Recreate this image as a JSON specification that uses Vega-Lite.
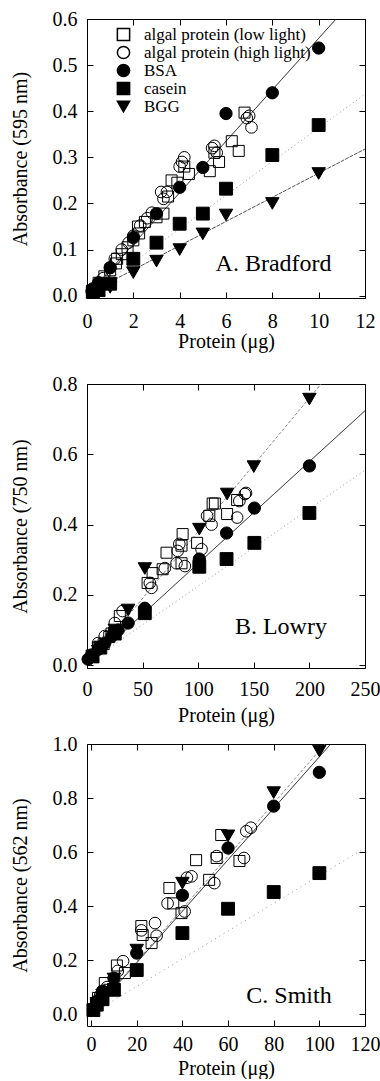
{
  "$schema": "https://vega.github.io/schema/vega-lite/v6.json",
  "padding": {"left": 9, "top": 8, "right": 0, "bottom": 0},
  "background": "white",
  "config": {
    "font": "Liberation Serif, Times New Roman, serif",
    "view": {"stroke": "black", "strokeWidth": 1},
    "axis": {
      "grid": false, "domain": false, "tickColor": "black", "tickSize": -6, "tickWidth": 1,
      "labelFontSize": 20, "labelColor": "black",
      "titleFontSize": 20, "titleFontWeight": "normal", "titleColor": "black",
      "labelFlush": false, "labelOverlap": false, "labelPadding": 16, "titlePadding": 14
    },
    "legend": {"labelFont": "Liberation Serif, Times New Roman, serif"}
  },
  "datasets": {
    "ptsA": [
      {"s":"L","x":0.25,"y":0.012},{"s":"L","x":0.5,"y":0.028},{"s":"L","x":0.75,"y":0.042},{"s":"L","x":1.0,"y":0.055},{"s":"L","x":1.25,"y":0.07},{"s":"L","x":1.3,"y":0.08},{"s":"L","x":1.5,"y":0.09},{"s":"L","x":1.75,"y":0.105},{"s":"L","x":2.0,"y":0.12},{"s":"L","x":2.2,"y":0.15},{"s":"L","x":2.25,"y":0.135},{"s":"L","x":2.5,"y":0.16},{"s":"L","x":3.0,"y":0.17},{"s":"L","x":3.3,"y":0.178},{"s":"L","x":3.5,"y":0.215},{"s":"L","x":3.65,"y":0.25},{"s":"L","x":3.9,"y":0.245},{"s":"L","x":4.2,"y":0.28},{"s":"L","x":4.4,"y":0.264},{"s":"L","x":5.3,"y":0.27},{"s":"L","x":5.5,"y":0.31},{"s":"L","x":5.7,"y":0.29},{"s":"L","x":6.25,"y":0.335},{"s":"L","x":6.55,"y":0.314},{"s":"L","x":6.8,"y":0.397},
      {"s":"H","x":0.2,"y":0.01},{"s":"H","x":0.45,"y":0.022},{"s":"H","x":0.7,"y":0.038},{"s":"H","x":1.0,"y":0.06},{"s":"H","x":1.2,"y":0.08},{"s":"H","x":1.5,"y":0.1},{"s":"H","x":1.8,"y":0.115},{"s":"H","x":2.0,"y":0.13},{"s":"H","x":2.3,"y":0.152},{"s":"H","x":2.6,"y":0.168},{"s":"H","x":2.8,"y":0.18},{"s":"H","x":3.2,"y":0.225},{"s":"H","x":3.3,"y":0.21},{"s":"H","x":3.45,"y":0.225},{"s":"H","x":4.0,"y":0.28},{"s":"H","x":4.1,"y":0.29},{"s":"H","x":4.2,"y":0.3},{"s":"H","x":5.4,"y":0.32},{"s":"H","x":5.5,"y":0.325},{"s":"H","x":5.6,"y":0.31},{"s":"H","x":6.9,"y":0.385},{"s":"H","x":7.0,"y":0.39},{"s":"H","x":7.1,"y":0.365},
      {"s":"BSA","x":0.25,"y":0.015},{"s":"BSA","x":0.5,"y":0.028},{"s":"BSA","x":1,"y":0.061},{"s":"BSA","x":2,"y":0.126},{"s":"BSA","x":3,"y":0.178},{"s":"BSA","x":4,"y":0.235},{"s":"BSA","x":5,"y":0.278},{"s":"BSA","x":6,"y":0.395},{"s":"BSA","x":8,"y":0.44},{"s":"BSA","x":10,"y":0.537},
      {"s":"casein","x":0.25,"y":0.008},{"s":"casein","x":0.5,"y":0.012},{"s":"casein","x":1,"y":0.026},{"s":"casein","x":2,"y":0.08},{"s":"casein","x":3,"y":0.115},{"s":"casein","x":4,"y":0.156},{"s":"casein","x":5,"y":0.178},{"s":"casein","x":6,"y":0.232},{"s":"casein","x":8,"y":0.305},{"s":"casein","x":10,"y":0.37},
      {"s":"BGG","x":0.5,"y":0.01},{"s":"BGG","x":1,"y":0.018},{"s":"BGG","x":2,"y":0.05},{"s":"BGG","x":3,"y":0.075},{"s":"BGG","x":4,"y":0.1},{"s":"BGG","x":5,"y":0.134},{"s":"BGG","x":6,"y":0.175},{"s":"BGG","x":8,"y":0.2},{"s":"BGG","x":10,"y":0.265}
    ],
    "linesA": [
      {"s":"BSA","x":0,"y":0.0},{"s":"BSA","x":10.75,"y":0.6},
      {"s":"casein","x":0.3,"y":0.01},{"s":"casein","x":12,"y":0.437},
      {"s":"BGG","x":1,"y":0.03},{"s":"BGG","x":12,"y":0.318}
    ],
    "ptsB": [
      {"s":"L","x":5,"y":0.025},{"s":"L","x":10,"y":0.05},{"s":"L","x":15,"y":0.06},{"s":"L","x":20,"y":0.08},{"s":"L","x":22,"y":0.09},{"s":"L","x":29.5,"y":0.14},{"s":"L","x":54.5,"y":0.234},{"s":"L","x":59,"y":0.262},{"s":"L","x":68,"y":0.273},{"s":"L","x":71.5,"y":0.32},{"s":"L","x":85,"y":0.29},{"s":"L","x":85,"y":0.34},{"s":"L","x":86,"y":0.373},{"s":"L","x":99,"y":0.348},{"s":"L","x":110,"y":0.425},{"s":"L","x":113,"y":0.46},{"s":"L","x":115,"y":0.46},{"s":"L","x":126,"y":0.43},{"s":"L","x":135,"y":0.47},
      {"s":"H","x":4,"y":0.03},{"s":"H","x":10,"y":0.063},{"s":"H","x":16,"y":0.083},{"s":"H","x":25,"y":0.12},{"s":"H","x":32,"y":0.154},{"s":"H","x":56.5,"y":0.234},{"s":"H","x":58,"y":0.22},{"s":"H","x":70,"y":0.276},{"s":"H","x":80.5,"y":0.29},{"s":"H","x":81.5,"y":0.325},{"s":"H","x":83,"y":0.345},{"s":"H","x":88,"y":0.282},{"s":"H","x":103,"y":0.33},{"s":"H","x":108,"y":0.425},{"s":"H","x":112,"y":0.4},{"s":"H","x":135,"y":0.42},{"s":"H","x":137,"y":0.467},{"s":"H","x":142,"y":0.487},{"s":"H","x":143,"y":0.49},
      {"s":"BSA","x":1,"y":0.017},{"s":"BSA","x":4.5,"y":0.027},{"s":"BSA","x":10,"y":0.045},{"s":"BSA","x":16,"y":0.063},{"s":"BSA","x":22.5,"y":0.083},{"s":"BSA","x":28,"y":0.1},{"s":"BSA","x":37,"y":0.12},{"s":"BSA","x":52,"y":0.162},{"s":"BSA","x":101,"y":0.302},{"s":"BSA","x":125.5,"y":0.376},{"s":"BSA","x":150.5,"y":0.447},{"s":"BSA","x":200,"y":0.567},
      {"s":"casein","x":5,"y":0.025},{"s":"casein","x":12,"y":0.05},{"s":"casein","x":25,"y":0.09},{"s":"casein","x":52,"y":0.148},{"s":"casein","x":101,"y":0.28},{"s":"casein","x":125.5,"y":0.302},{"s":"casein","x":150.5,"y":0.348},{"s":"casein","x":200,"y":0.433},
      {"s":"BGG","x":10,"y":0.04},{"s":"BGG","x":25,"y":0.1},{"s":"BGG","x":37,"y":0.157},{"s":"BGG","x":52,"y":0.275},{"s":"BGG","x":101,"y":0.387},{"s":"BGG","x":126,"y":0.487},{"s":"BGG","x":150,"y":0.565},{"s":"BGG","x":200,"y":0.757}
    ],
    "linesB": [
      {"s":"BSA","x":0,"y":0.0},{"s":"BSA","x":250,"y":0.724},
      {"s":"casein","x":0,"y":0.005},{"s":"casein","x":250,"y":0.555},
      {"s":"BGG","x":0,"y":0.0},{"s":"BGG","x":210.5,"y":0.8}
    ],
    "ptsC": [
      {"s":"L","x":3,"y":0.06},{"s":"L","x":6,"y":0.115},{"s":"L","x":8,"y":0.09},{"s":"L","x":11.3,"y":0.18},{"s":"L","x":14.8,"y":0.152},{"s":"L","x":22,"y":0.326},{"s":"L","x":22.6,"y":0.293},{"s":"L","x":26.5,"y":0.263},{"s":"L","x":34.3,"y":0.467},{"s":"L","x":36,"y":0.41},{"s":"L","x":39.6,"y":0.374},{"s":"L","x":46,"y":0.57},{"s":"L","x":51.7,"y":0.497},{"s":"L","x":55,"y":0.578},{"s":"L","x":57,"y":0.663},{"s":"L","x":65,"y":0.567},
      {"s":"H","x":4,"y":0.07},{"s":"H","x":7,"y":0.1},{"s":"H","x":11.7,"y":0.16},{"s":"H","x":14,"y":0.196},{"s":"H","x":22,"y":0.31},{"s":"H","x":28,"y":0.337},{"s":"H","x":28.7,"y":0.29},{"s":"H","x":33.5,"y":0.41},{"s":"H","x":41,"y":0.38},{"s":"H","x":42,"y":0.505},{"s":"H","x":44,"y":0.51},{"s":"H","x":54,"y":0.485},{"s":"H","x":55,"y":0.585},{"s":"H","x":67,"y":0.578},{"s":"H","x":68,"y":0.677},{"s":"H","x":70,"y":0.69},
      {"s":"BSA","x":1,"y":0.02},{"s":"BSA","x":2.5,"y":0.048},{"s":"BSA","x":5,"y":0.085},{"s":"BSA","x":10,"y":0.133},{"s":"BSA","x":20,"y":0.226},{"s":"BSA","x":40,"y":0.44},{"s":"BSA","x":60,"y":0.615},{"s":"BSA","x":80,"y":0.77},{"s":"BSA","x":100,"y":0.895},
      {"s":"casein","x":1,"y":0.015},{"s":"casein","x":2.5,"y":0.035},{"s":"casein","x":5,"y":0.055},{"s":"casein","x":10,"y":0.09},{"s":"casein","x":20,"y":0.163},{"s":"casein","x":40,"y":0.3},{"s":"casein","x":60,"y":0.39},{"s":"casein","x":80,"y":0.452},{"s":"casein","x":100,"y":0.522},
      {"s":"BGG","x":2.5,"y":0.04},{"s":"BGG","x":5,"y":0.07},{"s":"BGG","x":10,"y":0.13},{"s":"BGG","x":20,"y":0.237},{"s":"BGG","x":40,"y":0.485},{"s":"BGG","x":60,"y":0.66},{"s":"BGG","x":80,"y":0.82},{"s":"BGG","x":100,"y":0.974}
    ],
    "linesC": [
      {"s":"BSA","x":0,"y":0.0},{"s":"BSA","x":105,"y":1.0},
      {"s":"casein","x":0,"y":0.0},{"s":"casein","x":120,"y":0.615},
      {"s":"BGG","x":0,"y":0.0},{"s":"BGG","x":102.5,"y":1.0}
    ]
  },
  "resolve": {
    "scale": {"x": "independent", "y": "independent", "shape": "independent", "fill": "independent", "size": "independent", "stroke": "independent", "strokeDash": "independent"},
    "legend": {"shape": "independent", "fill": "independent", "size": "independent"}
  },
  "spacing": 21,
  "vconcat": [
    {
      "width": 278, "height": 279,
      "resolve": {"axis": {"x": "independent", "y": "independent"}},
      "layer": [
        {
          "data": {"name": "linesA"},
          "mark": {"type": "line", "strokeWidth": 1},
          "encoding": {
            "x": {"field": "x", "type": "quantitative", "scale": {"domain": [0, 12], "nice": false, "zero": false}, "axis": {"orient": "top", "labels": false, "title": null, "values": [0,2,4,6,8,10,12]}},
            "y": {"field": "y", "type": "quantitative", "scale": {"domain": [-0.005, 0.6], "nice": false, "zero": false}, "axis": {"orient": "right", "labels": false, "title": null, "values": [0,0.1,0.2,0.3,0.4,0.5,0.6]}},
            "detail": {"field": "s", "type": "nominal"},
            "strokeDash": {"field": "s", "type": "nominal", "scale": {"domain": ["BSA","casein","BGG"], "range": [[1,0],[1,3],[4,1]]}, "legend": null},
            "stroke": {"field": "s", "type": "nominal", "scale": {"domain": ["BSA","casein","BGG"], "range": ["#111","#999","#555"]}, "legend": null}
          }
        },
        {
          "data": {"name": "ptsA"},
          "mark": {"type": "point", "filled": true, "stroke": "black", "strokeWidth": 1, "opacity": 1},
          "encoding": {
            "x": {"field": "x", "type": "quantitative", "axis": {"orient": "bottom", "title": "Protein (μg)", "values": [0,2,4,6,8,10,12], "labelPadding": 19, "titlePadding": 0, "labelFont": "Liberation Serif, serif", "titleFont": "Liberation Serif, serif"}},
            "y": {"field": "y", "type": "quantitative", "axis": {"orient": "left", "title": "Absorbance (595 nm)", "values": [0,0.1,0.2,0.3,0.4,0.5,0.6], "format": ".1f", "titlePadding": 22, "labelFont": "Liberation Serif, serif", "titleFont": "Liberation Serif, serif"}},
            "shape": {"field": "s", "type": "nominal", "scale": {"domain": ["L","H","BSA","casein","BGG"], "range": ["square","circle","circle","square","triangle-down"]},
              "legend": {"orient": "none", "legendX": 28, "legendY": 7, "title": null, "labelFontSize": 17, "labelFont": "Liberation Serif, Times New Roman, serif", "labelColor": "black", "symbolSize": 150, "rowPadding": -3, "labelOffset": 12, "padding": 0, "labelLimit": 300,
                "labelExpr": "datum.label == 'L' ? 'algal protein (low light)' : datum.label == 'H' ? 'algal protein (high light)' : datum.label"}},
            "fill": {"field": "s", "type": "nominal", "scale": {"domain": ["L","H","BSA","casein","BGG"], "range": ["transparent","transparent","black","black","black"]},
              "legend": {"orient": "none", "legendX": 28, "legendY": 7, "title": null, "labelFontSize": 17, "labelFont": "Liberation Serif, Times New Roman, serif", "labelColor": "black", "symbolSize": 150, "rowPadding": -3, "labelOffset": 12, "padding": 0, "labelLimit": 300,
                "labelExpr": "datum.label == 'L' ? 'algal protein (low light)' : datum.label == 'H' ? 'algal protein (high light)' : datum.label"}},
            "size": {"field": "s", "type": "nominal", "scale": {"domain": ["BGG","casein","BSA","H","L"], "range": [180,121,240,200,130]}, "legend": null}
          }
        },
        {
          "data": {"values": [{"t": "A. Bradford", "x": 5.55, "y": 0.053}]},
          "mark": {"type": "text", "align": "left", "baseline": "alphabetic", "fontSize": 24, "font": "Liberation Serif, Times New Roman, serif", "color": "black"},
          "encoding": {
            "x": {"field": "x", "type": "quantitative", "axis": null},
            "y": {"field": "y", "type": "quantitative", "axis": null},
            "text": {"field": "t"}
          }
        }
      ]
    },
    {
      "resolve": {
        "scale": {"x": "independent", "y": "independent", "shape": "independent", "fill": "independent", "size": "independent", "stroke": "independent", "strokeDash": "independent"},
        "legend": {"shape": "independent", "fill": "independent", "size": "independent"}
      },
      "spacing": 7,
      "vconcat": [
        {
          "width": 278, "height": 284,
          "resolve": {"axis": {"x": "independent", "y": "independent"}},
          "layer": [
            {
              "data": {"name": "linesB"},
              "mark": {"type": "line", "strokeWidth": 1},
              "encoding": {
                "x": {"field": "x", "type": "quantitative", "scale": {"domain": [0, 250], "nice": false, "zero": false}, "axis": {"orient": "top", "labels": false, "title": null, "values": [0,50,100,150,200,250]}},
                "y": {"field": "y", "type": "quantitative", "scale": {"domain": [-0.008, 0.8], "nice": false, "zero": false}, "axis": {"orient": "right", "labels": false, "title": null, "values": [0,0.2,0.4,0.6,0.8]}},
                "detail": {"field": "s", "type": "nominal"},
                "strokeDash": {"field": "s", "type": "nominal", "scale": {"domain": ["BSA","casein","BGG"], "range": [[1,0],[1,3],[3,2]]}, "legend": null},
                "stroke": {"field": "s", "type": "nominal", "scale": {"domain": ["BSA","casein","BGG"], "range": ["#111","#999","#888"]}, "legend": null}
              }
            },
            {
              "data": {"name": "ptsB"},
              "mark": {"type": "point", "filled": true, "stroke": "black", "strokeWidth": 1, "opacity": 1},
              "encoding": {
                "x": {"field": "x", "type": "quantitative", "axis": {"orient": "bottom", "title": "Protein (μg)", "values": [0,50,100,150,200,250], "labelPadding": 17, "titlePadding": 6, "labelFont": "Liberation Serif, serif", "titleFont": "Liberation Serif, serif"}},
                "y": {"field": "y", "type": "quantitative", "axis": {"orient": "left", "title": "Absorbance (750 nm)", "values": [0,0.2,0.4,0.6,0.8], "format": ".1f", "titlePadding": 22, "labelFont": "Liberation Serif, serif", "titleFont": "Liberation Serif, serif"}},
                "shape": {"field": "s", "type": "nominal", "scale": {"domain": ["L","H","BSA","casein","BGG"], "range": ["square","circle","circle","square","triangle-down"]}, "legend": null},
                "fill": {"field": "s", "type": "nominal", "scale": {"domain": ["L","H","BSA","casein","BGG"], "range": ["transparent","transparent","black","black","black"]}, "legend": null},
                "size": {"field": "s", "type": "nominal", "scale": {"domain": ["BGG","casein","BSA","H","L"], "range": [180,121,240,200,130]}, "legend": null}
              }
            },
            {
              "data": {"values": [{"t": "B. Lowry", "x": 133, "y": 0.088}]},
              "mark": {"type": "text", "align": "left", "baseline": "alphabetic", "fontSize": 24, "font": "Liberation Serif, Times New Roman, serif", "color": "black"},
              "encoding": {
                "x": {"field": "x", "type": "quantitative", "axis": null},
                "y": {"field": "y", "type": "quantitative", "axis": null},
                "text": {"field": "t"}
              }
            }
          ]
        },
        {
          "width": 278, "height": 282,
          "resolve": {"axis": {"x": "independent", "y": "independent"}},
          "layer": [
            {
              "data": {"name": "linesC"},
              "mark": {"type": "line", "strokeWidth": 1},
              "encoding": {
                "x": {"field": "x", "type": "quantitative", "scale": {"domain": [-1.8, 120], "nice": false, "zero": false}, "axis": {"orient": "top", "labels": false, "title": null, "values": [0,20,40,60,80,100,120]}},
                "y": {"field": "y", "type": "quantitative", "scale": {"domain": [-0.044, 1.0], "nice": false, "zero": false}, "axis": {"orient": "right", "labels": false, "title": null, "values": [0,0.2,0.4,0.6,0.8,1.0]}},
                "detail": {"field": "s", "type": "nominal"},
                "strokeDash": {"field": "s", "type": "nominal", "scale": {"domain": ["BSA","casein","BGG"], "range": [[1,0],[1,4],[3,2]]}, "legend": null},
                "stroke": {"field": "s", "type": "nominal", "scale": {"domain": ["BSA","casein","BGG"], "range": ["#111","#999","#888"]}, "legend": null}
              }
            },
            {
              "data": {"name": "ptsC"},
              "mark": {"type": "point", "filled": true, "stroke": "black", "strokeWidth": 1, "opacity": 1},
              "encoding": {
                "x": {"field": "x", "type": "quantitative", "axis": {"orient": "bottom", "title": "Protein (μg)", "values": [0,20,40,60,80,100,120], "labelPadding": 14, "titlePadding": 4, "labelFont": "Liberation Serif, serif", "titleFont": "Liberation Serif, serif"}},
                "y": {"field": "y", "type": "quantitative", "axis": {"orient": "left", "title": "Absorbance (562 nm)", "values": [0,0.2,0.4,0.6,0.8,1.0], "format": ".1f", "titlePadding": 22, "labelFont": "Liberation Serif, serif", "titleFont": "Liberation Serif, serif"}},
                "shape": {"field": "s", "type": "nominal", "scale": {"domain": ["L","H","BSA","casein","BGG"], "range": ["square","circle","circle","square","triangle-down"]}, "legend": null},
                "fill": {"field": "s", "type": "nominal", "scale": {"domain": ["L","H","BSA","casein","BGG"], "range": ["transparent","transparent","black","black","black"]}, "legend": null},
                "size": {"field": "s", "type": "nominal", "scale": {"domain": ["BGG","casein","BSA","H","L"], "range": [180,121,240,200,130]}, "legend": null}
              }
            },
            {
              "data": {"values": [{"t": "C. Smith", "x": 68, "y": 0.04}]},
              "mark": {"type": "text", "align": "left", "baseline": "alphabetic", "fontSize": 24, "font": "Liberation Serif, Times New Roman, serif", "color": "black"},
              "encoding": {
                "x": {"field": "x", "type": "quantitative", "axis": null},
                "y": {"field": "y", "type": "quantitative", "axis": null},
                "text": {"field": "t"}
              }
            }
          ]
        }
      ]
    }
  ]
}
